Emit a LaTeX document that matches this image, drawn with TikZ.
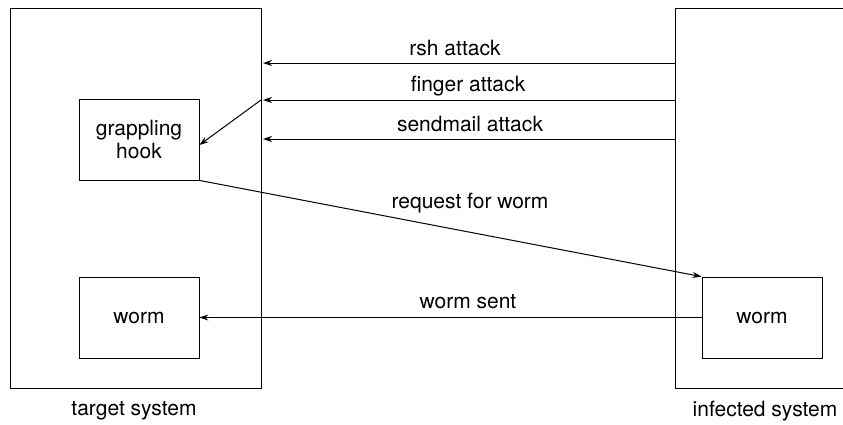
\documentclass[tikz,border=0pt]{standalone}
\usepackage{fontspec}
\setmainfont{TeX Gyre Heros}
\usetikzlibrary{arrows.meta}
\begin{document}
\begin{tikzpicture}[x=1pt,y=-1pt,
  sysbox/.style={draw,line width=0.8pt},
  inbox/.style={draw,line width=0.8pt,align=center,inner sep=0pt,font=\fontsize{21}{23}\selectfont},
  conn/.style={line width=1pt,-{Stealth[length=9pt,width=6pt]}},
  lbl/.style={font=\fontsize{21}{23}\selectfont,inner sep=0pt}]
\useasboundingbox (0,0) rectangle (843,424);
\node[sysbox,minimum width=251pt,minimum height=380pt,inner sep=0pt] (target) at (135.5,198) {};
\path[sysbox] (843.5,8) -- (675,8) -- (675,388) -- (843.5,388);
\node[inbox,minimum width=120pt,minimum height=81pt] (hook) at (139,139.5) {grappling\\hook};
\node[inbox,minimum width=120pt,minimum height=81pt] (wormL) at (139,317.5) {worm};
\node[inbox,minimum width=120pt,minimum height=81pt] (wormR) at (762,317.5) {worm};
\coordinate (r1) at (675,63); \coordinate (l1) at (263,63);
\coordinate (r2) at (675,100); \coordinate (l2) at (263,100);
\coordinate (r3) at (675,139); \coordinate (l3) at (263,139);
\draw[conn] (r1) -- (l1);
\draw[conn] (r2) -- (l2);
\draw[conn] (r3) -- (l3);
\draw[conn] (261,100) -- (hook.east |- 0,145);
\draw[conn] (hook.south east) -- (wormR.north west);
\draw[conn] (wormR.west) -- (wormL.east);
\node[lbl] (t1) at (455,48) {rsh attack};
\node[lbl] (t2) at (468,86) {finger attack};
\node[lbl] (t3) at (470,124) {sendmail attack};
\node[lbl] (t4) at (470,203) {request for worm};
\node[lbl] (t5) at (468,302) {worm sent};
\node[lbl] (t6) at (134,411) {target system};
\node[lbl] (t7) at (765,411) {infected system};
\end{tikzpicture}
\end{document}
